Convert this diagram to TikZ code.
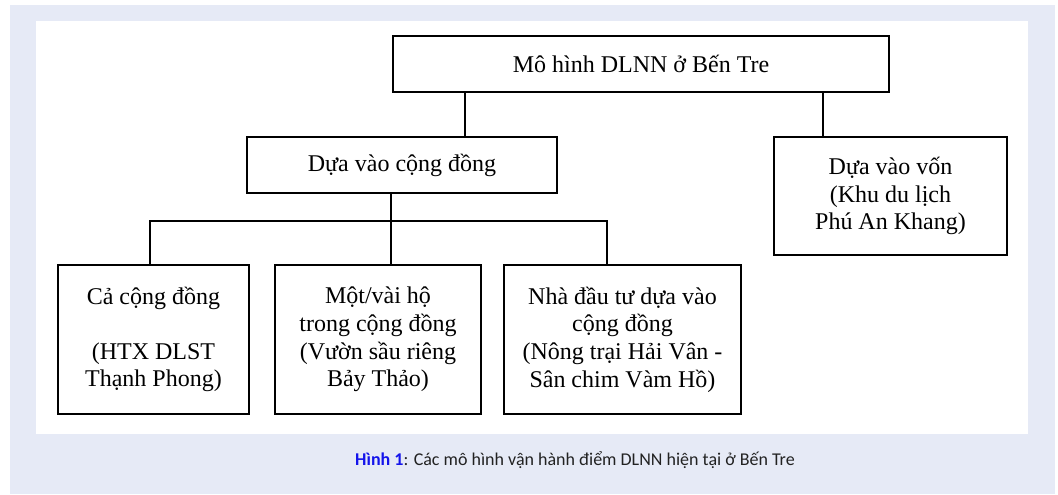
\documentclass[tikz,border=0pt]{standalone}
\usepackage{fontspec}
\setmainfont{Liberation Serif}
\newfontfamily\capfont{Carlito}
\usetikzlibrary{positioning}
\usetikzlibrary{math}
\usetikzlibrary{calc}
\definecolor{panelblue}{RGB}{230,234,246}
\definecolor{capblue}{RGB}{20,20,235}
\definecolor{captext}{RGB}{34,34,34}

\begin{document}
\begin{tikzpicture}[x=0.75pt,y=-0.75pt,line width=1.3pt,
  box/.style={draw, align=center, inner sep=0pt, font=\fontsize{18}{20.7}\selectfont}]

  \tikzmath{
    \bary  = 221; % height of the branching bar
    \barl  = 150; % left end of the bar
    \barm  = 391; % drop from the community box
    \barr  = 607; % right end of the bar
    \rootl = 465; % left leg of the root box
    \rootr = 823; % right leg of the root box
  }

  \useasboundingbox (0,0) rectangle (1058,495);

  % frame of the figure
  \fill[panelblue] (10,5) rectangle (1055,494);
  \fill[white] (36,21) rectangle (1028,434);

  % top level
  \node[box, minimum width=496*0.75pt, minimum height=56*0.75pt] (root) at (641,64)
    {Mô hình DLNN ở Bến Tre};

  % second level
  \node[box, minimum width=310*0.75pt, minimum height=56*0.75pt] (community) at (402,165)
    {Dựa vào cộng đồng};
  \node[box, minimum width=233*0.75pt, minimum height=118*0.75pt] (capital) at (890.5,196)
    {Dựa vào vốn\\(Khu du lịch\\Phú An Khang)};

  % third level
  \node[box, minimum width=191*0.75pt, minimum height=149*0.75pt] (whole) at (153.5,339.5)
    {Cả cộng đồng\\[20.7pt](HTX DLST\\Thạnh Phong)};
  \node[box, minimum width=206*0.75pt, minimum height=149*0.75pt] (household) at (378,339.5)
    {Một/vài hộ\\trong cộng đồng\\(Vườn sầu riêng\\Bảy Thảo)};
  \node[box, minimum width=237*0.75pt, minimum height=149*0.75pt] (investor) at (622.5,339.5)
    {Nhà đầu tư dựa vào\\cộng đồng\\(Nông trại Hải Vân -\\Sân chim Vàm Hồ)};

  % legs and branching bar
  \coordinate (rootL) at (\rootl,0);
  \coordinate (rootR) at (\rootr,0);
  \coordinate (barL) at (\barl,\bary);
  \coordinate (barM) at (\barm,\bary);
  \coordinate (barR) at (\barr,\bary);

  \draw (root.south -| rootL) -- (community.north -| rootL);
  \draw (root.south -| rootR) -- (capital.north -| rootR);
  \draw (community.south -| barM) -- (barM);
  \draw (whole.north -| barL) |- (barR) -- (investor.north -| barR);
  \draw (barM) -- (household.north -| barM);

  % caption
  \node[font=\capfont\fontsize{13.5}{16}\selectfont, text=captext] (caption) at (575,460)
    {\textcolor{capblue}{\bfseries Hình 1}: Các mô hình vận hành điểm DLNN hiện tại ở Bến Tre};

\end{tikzpicture}
\end{document}
